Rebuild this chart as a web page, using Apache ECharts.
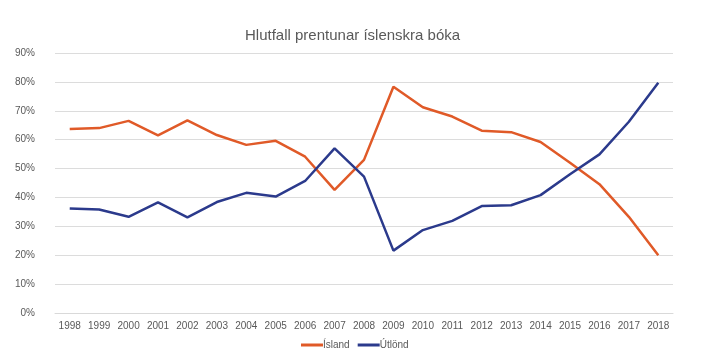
<!DOCTYPE html>
<html><head><meta charset="utf-8">
<script src="https://cdn.jsdelivr.net/npm/echarts@6/dist/echarts.min.js"></script>
<style>html,body{margin:0;padding:0;background:#fff}#c{width:713px;height:364px}</style>
</head><body><div id="c"></div>
<script>
const years = ['1998','1999','2000','2001','2002','2003','2004','2005','2006','2007','2008','2009','2010','2011','2012','2013','2014','2015','2016','2017','2018'];
const island = [63.7,64.0,66.5,61.5,66.7,61.6,58.2,59.6,54.1,42.6,53.0,78.3,71.2,68.0,63.1,62.6,59.2,52.0,44.6,33.3,20.0];
const utlond = [36.2,35.8,33.3,38.3,33.1,38.4,41.6,40.3,45.7,57.0,47.2,21.6,28.7,31.9,37.0,37.3,40.8,48.0,54.9,66.2,79.7];
const chart = echarts.init(document.getElementById('c'));
const font = 'Liberation Sans, Arial, sans-serif';
chart.setOption({
  animation:false,
  title:{text:'Hlutfall prentunar íslenskra bóka',left:240,top:23,
    textStyle:{fontFamily:font,fontSize:15,fontWeight:'normal',color:'#595959'}},
  grid:{left:55,right:40,top:53,bottom:51},
  legend:{bottom:9,left:296,itemWidth:22,itemHeight:3,itemGap:8,icon:'rect',
    textStyle:{fontFamily:font,fontSize:10,color:'#595959',padding:[0,0,0,-5]},
    data:['Ísland','Útlönd']},
  xAxis:{type:'category',data:years,boundaryGap:true,
    axisLine:{lineStyle:{color:'#d9d9d9'}},axisTick:{show:false},
    axisLabel:{fontFamily:font,fontSize:10,color:'#595959',margin:8}},
  yAxis:{type:'value',min:0,max:90,interval:10,
    axisLine:{show:false},axisTick:{show:false},
    splitLine:{lineStyle:{color:'#dcdcdc',width:1}},
    axisLabel:{fontFamily:font,fontSize:10,color:'#595959',formatter:'{value}%',margin:20}},
  series:[
    {name:'Ísland',type:'line',data:island,symbol:'none',lineStyle:{width:2.5,color:'#E05A28'},itemStyle:{color:'#E05A28'}},
    {name:'Útlönd',type:'line',data:utlond,symbol:'none',lineStyle:{width:2.5,color:'#2B3A8C'},itemStyle:{color:'#2B3A8C'}}
  ]
});
</script></body></html>
